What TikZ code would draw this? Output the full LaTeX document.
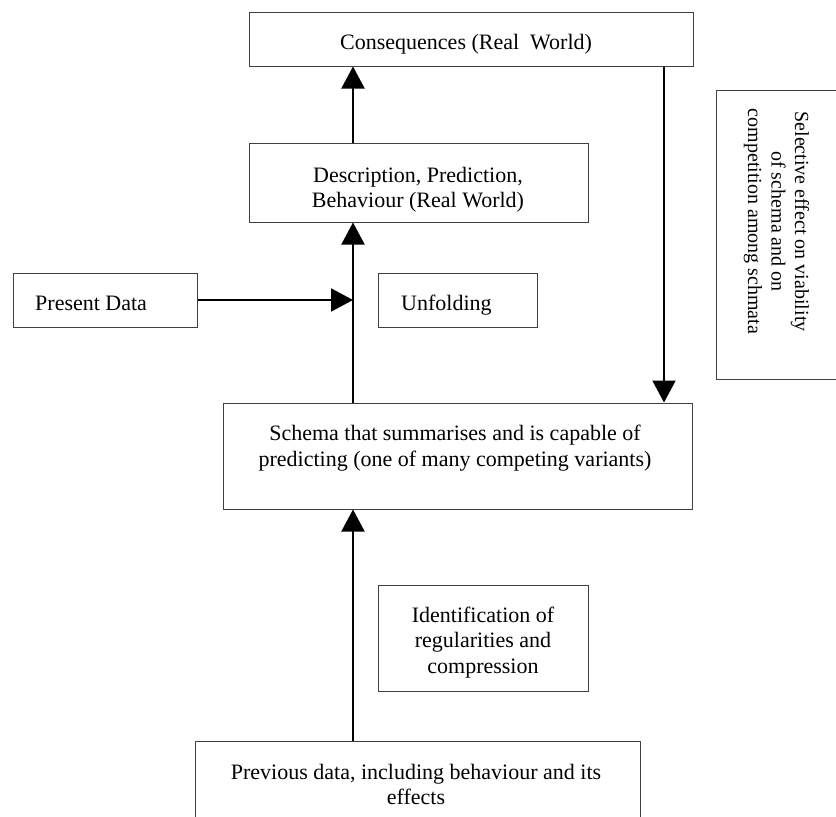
\documentclass[tikz,border=0pt]{standalone}
\usepackage{fontspec}
\setmainfont{Liberation Serif}
\usetikzlibrary{arrows.meta}
\begin{document}
\begin{tikzpicture}[x=1pt,y=-1pt,
  box/.style={draw=black!75, line width=1pt, inner sep=0pt},
  lbl/.style={inner sep=0pt, font=\fontsize{22}{25.5}\selectfont, align=center},
  arr/.style={draw=black, line width=2pt, -{Triangle[length=22pt,width=23pt]}}]
\useasboundingbox (0,0) rectangle (836,817);
\fill[white] (0,0) rectangle (836,817);
\clip (0,0) rectangle (836,817);
% boxes
\node[box, minimum width=444pt, minimum height=54pt] (cons) at (471,39) {};
\node[box, minimum width=339pt, minimum height=79pt] (desc) at (418.5,182.5) {};
\node[box, minimum width=184pt, minimum height=54pt] (pres) at (105,300) {};
\node[box, minimum width=159pt, minimum height=54pt] (unf) at (457.5,300) {};
\node[box, minimum width=469pt, minimum height=106pt] (schema) at (457.5,456) {};
\node[box, minimum width=210pt, minimum height=106pt] (ident) at (483,638) {};
\node[box, minimum width=445pt, minimum height=98pt] (prev) at (417.5,790) {};
\node[box, minimum width=144pt, minimum height=289pt] (selbox) at (788,234.5) {};
% texts
\node[lbl, anchor=base west] (tcons) at (340,49) {Consequences (Real\hspace{0.25em} World)};
\node[lbl] (tdesc) at (418,189.5) {Description, Prediction,\\Behaviour (Real World)};
\node[lbl, anchor=base west] (tpres) at (35,310) {Present Data};
\node[lbl, anchor=base west] (tunf) at (401,310) {Unfolding};
\node[lbl] (tschema) at (455,448) {Schema that summarises and is capable of\\predicting (one of many competing variants)};
\node[lbl] (tident) at (483,642.5) {Identification of\\regularities and\\compression};
\node[lbl] (tprev) at (416,784.5) {Previous data, including behaviour and its\\effects};
\node[lbl, font=\fontsize{20}{23.5}\selectfont, rotate=-90] (tsel) at (776.5,221.5) {Selective effect on viability\\of schema and on\\competition among schmata};
% connectors
\coordinate (c1) at (353,0);
\coordinate (c2) at (664,0);
\draw[arr] (desc.north -| c1) -- (cons.south -| c1);
\draw[arr] (schema.north -| c1) -- (desc.south -| c1);
\draw[arr] (prev.north -| c1) -- (schema.south -| c1);
\draw[arr] (pres.east) -- (c1 |- pres.east);
\draw[arr] (cons.south -| c2) -- (schema.north -| c2);
\end{tikzpicture}
\end{document}
